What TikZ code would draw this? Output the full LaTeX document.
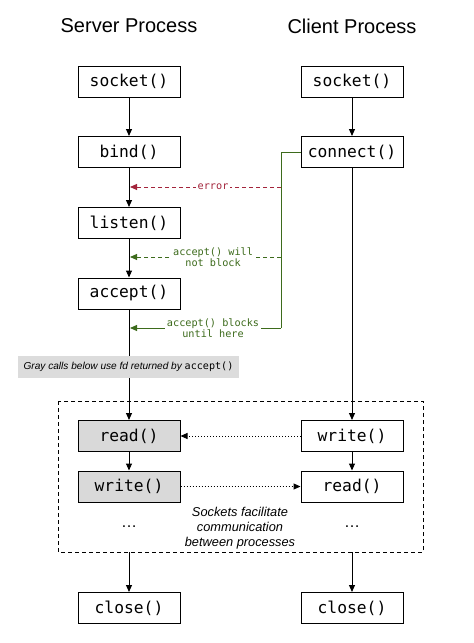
\documentclass[tikz,border=0pt]{standalone}
\usepackage{fontspec}
\setmainfont{Liberation Sans}
\setsansfont{Liberation Sans}
\setmonofont{DejaVu Sans Mono}
\usetikzlibrary{arrows.meta}
\definecolor{errred}{HTML}{A3243B}
\definecolor{okgreen}{HTML}{3D6B1C}
\definecolor{notegray}{HTML}{DCDCDC}
\definecolor{boxgray}{HTML}{D9D9D9}
\tikzset{
  call/.style={draw, line width=1pt, minimum width=102pt, minimum height=31pt, inner sep=0pt,
    font=\fontsize{16.3}{18}\selectfont\ttfamily},
  graycall/.style={call, fill=boxgray},
  flow/.style={line width=1pt, -{Triangle[length=7pt,width=6pt]}},
  tip/.style={-{Triangle[length=7pt,width=6pt]}},
  lbl/.style={font=\fontsize{10.2}{10.8}\selectfont\ttfamily, align=center, fill=white, inner sep=2pt},
  title/.style={font=\fontsize{20}{24}\selectfont\sffamily},
}
\begin{document}
\begin{tikzpicture}[x=1pt,y=-1pt]
\useasboundingbox (0,0) rectangle (474,643);
% titles
\node[title] (ts) at (129,26) {Server Process};
\node[title] (tc) at (352,26) {Client Process};
% server boxes
\node[call] (ssock) at (129,81.5) {socket()};
\node[call] (bind) at (129,152) {bind()};
\node[call] (listen) at (129,223) {listen()};
\node[call] (accept) at (129,293.5) {accept()};
\node[graycall] (sread) at (129,436) {read()};
\node[graycall] (swrite) at (129,486.5) {write()};
\node[call] (sclose) at (129,608) {close()};
% client boxes
\node[call] (csock) at (352,81.5) {socket()};
\node[call] (connect) at (352,152) {connect()};
\node[call] (cwrite) at (352,436) {write()};
\node[call] (cread) at (352,486.5) {read()};
\node[call] (cclose) at (352,608) {close()};
% dashed region
\draw[dashed, line width=1pt, dash pattern=on 4pt off 3pt] (58,401) rectangle (423,552);
\coordinate (sbot) at (129,552);
\coordinate (cbot) at (352,552);
\node[font=\fontsize{16}{16}\selectfont] (sdots) at (129,527) {\dots};
\node[font=\fontsize{16}{16}\selectfont] (cdots) at (352,527) {\dots};
\node[font=\fontsize{12.8}{15}\selectfont\itshape, align=center] (sock) at (240,528) {Sockets facilitate\\communication\\between processes};
% main flows
\draw[flow] (ssock) -- (bind);
\draw[flow] (bind) -- (listen);
\draw[flow] (listen) -- (accept);
\draw[flow] (accept) -- (sread);
\draw[flow] (sread) -- (swrite);
\draw[flow] (sbot) -- (sclose);
\draw[flow] (csock) -- (connect);
\draw[flow] (connect) -- (cwrite);
\draw[flow] (cwrite) -- (cread);
\draw[flow] (cbot) -- (cclose);
% gray note on top of server line
\node[fill=notegray, minimum width=221pt, minimum height=22pt, inner sep=0pt,
  font=\fontsize{10.1}{11}\selectfont\sffamily\itshape] (note) at (128.5,367)
  {Gray calls below use fd returned by {\upshape\ttfamily accept()}};
% green connector from connect
\coordinate (g1) at (281,152);
\coordinate (g2) at (281,187);
\coordinate (g3) at (281,257);
\coordinate (g4) at (281,328);
\coordinate (e1) at (130,187);
\coordinate (e2) at (130,257);
\coordinate (e3) at (130,328);
\draw[okgreen, line width=1pt] (connect.west) -- (g1) -- (g4);
\draw[errred, line width=1pt, dashed, dash pattern=on 4pt off 3pt, tip] (g2) -- node[lbl, text=errred, pos=0.45] (errl) {error} (e1);
\draw[okgreen, line width=1pt, dashed, dash pattern=on 4pt off 3pt, tip] (g3) -- node[lbl, text=okgreen, pos=0.45] (wl) {accept() will\\not block} (e2);
\draw[okgreen, line width=1pt, tip] (g4) -- node[lbl, text=okgreen, pos=0.45] (bl) {accept() blocks\\until here} (e3);
% dotted data flows
\draw[line width=1pt, dotted, tip] (cwrite) -- (sread);
\draw[line width=1pt, dotted, tip] (swrite) -- (cread);
\end{tikzpicture}
\end{document}
